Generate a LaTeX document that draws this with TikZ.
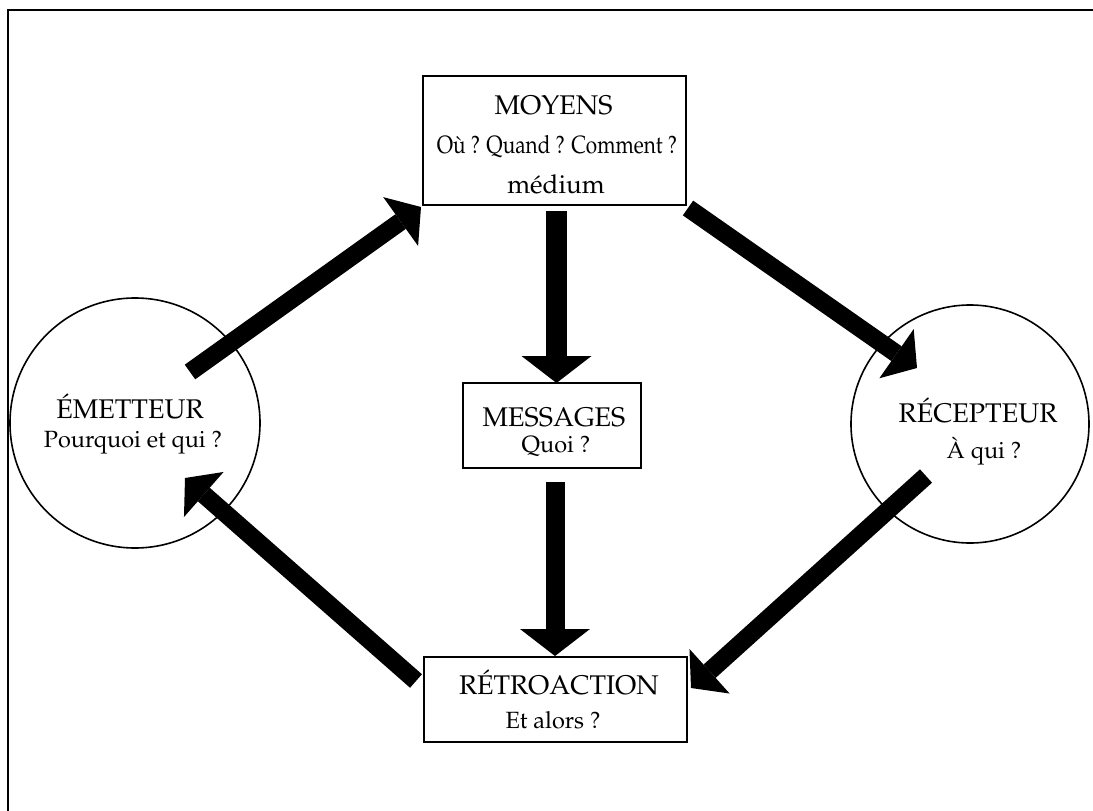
\documentclass[tikz,border=0pt]{standalone}
\usepackage[T1]{fontenc}
\renewcommand{\rmdefault}{ppl}
\usetikzlibrary{arrows.meta}
\begin{document}
\begin{tikzpicture}[x=1pt,y=-1pt,
  box/.style={draw, line width=1.8pt, inner sep=0pt},
  circ/.style={draw, circle, line width=1.6pt, inner sep=0pt},
  big/.style={font=\fontsize{27}{30}\selectfont, anchor=base, inner sep=0pt},
  small/.style={font=\fontsize{23.5}{27}\selectfont, anchor=base, inner sep=0pt},
  med/.style={font=\fontsize{26}{29}\selectfont, anchor=base, inner sep=0pt},
  cond/.style={font=\fontsize{25}{28}\selectfont, anchor=base, inner sep=0pt},
  fat/.style={line width=18pt, -{Triangle[length=25pt,width=60pt,line width=0pt]}},
  fatv/.style={line width=21pt, -{Triangle[length=27pt,width=70pt,line width=0pt]}},
]
\path[use as bounding box] (0,0) rectangle (1093,811);
% frame
\coordinate (fbl) at (8,811);
\coordinate (ftl) at (8,10);
\coordinate (ftr) at (1093,10);
\draw[line width=1.8pt] (fbl) -- (ftl) -- (ftr);

% circles
\node[circ, minimum size=250pt] (emetteur) at (135,423) {};
\node[circ, minimum size=238pt] (recepteur) at (970,424) {};

% boxes
\node[box, minimum width=263pt, minimum height=129pt] (moyens) at (554.5,140.5) {};
\node[box, minimum width=178pt, minimum height=85pt] (messages) at (552,425.5) {};
\node[box, minimum width=263pt, minimum height=85pt] (retro) at (555.5,699.5) {};

% texts
\node[big] (tmoy) at (553.5,114) {MOYENS};
\node[cond] (tou) at (557,153) {\scalebox{0.83}[1]{O\`u ? Quand ? Comment ?}};
\node[med] (tmed) at (556,193) {m\'edium};
\node[big] (temt) at (130,418) {\'EMETTEUR};
\node[small] (tpq) at (133,447) {Pourquoi et qui ?};
\node[big] (trec) at (978,422) {R\'ECEPTEUR};
\node[small] (taq) at (984,458) {\`A qui ?};
\node[big] (tmes) at (554,426) {MESSAGES};
\node[small] (tquoi) at (556,452) {Quoi ?};
\node[big] (tret) at (559,694) {R\'ETROACTION};
\node[small] (teta) at (553,728) {Et alors ?};

% arrow ends
\coordinate (a1s) at (190,372);
\coordinate (a1e) at (421,207);
\coordinate (a2s) at (688,208);
\coordinate (a2e) at (917,368);
\coordinate (a3s) at (926,476);
\coordinate (a3e) at (691,688);
\coordinate (a4s) at (416,681);
\coordinate (a4e) at (185,478);
\coordinate (v1s) at (556.5,211);
\coordinate (v1e) at (556.5,383);
\coordinate (v2s) at (555,482);
\coordinate (v2e) at (555,656);

\draw[fat] (a1s) -- (a1e);
\draw[fat] (a2s) -- (a2e);
\draw[fat] (a3s) -- (a3e);
\draw[fat] (a4s) -- (a4e);
\draw[fatv] (v1s) -- (v1e);
\draw[fatv, line width=19pt] (v2s) -- (v2e);
\end{tikzpicture}
\end{document}
